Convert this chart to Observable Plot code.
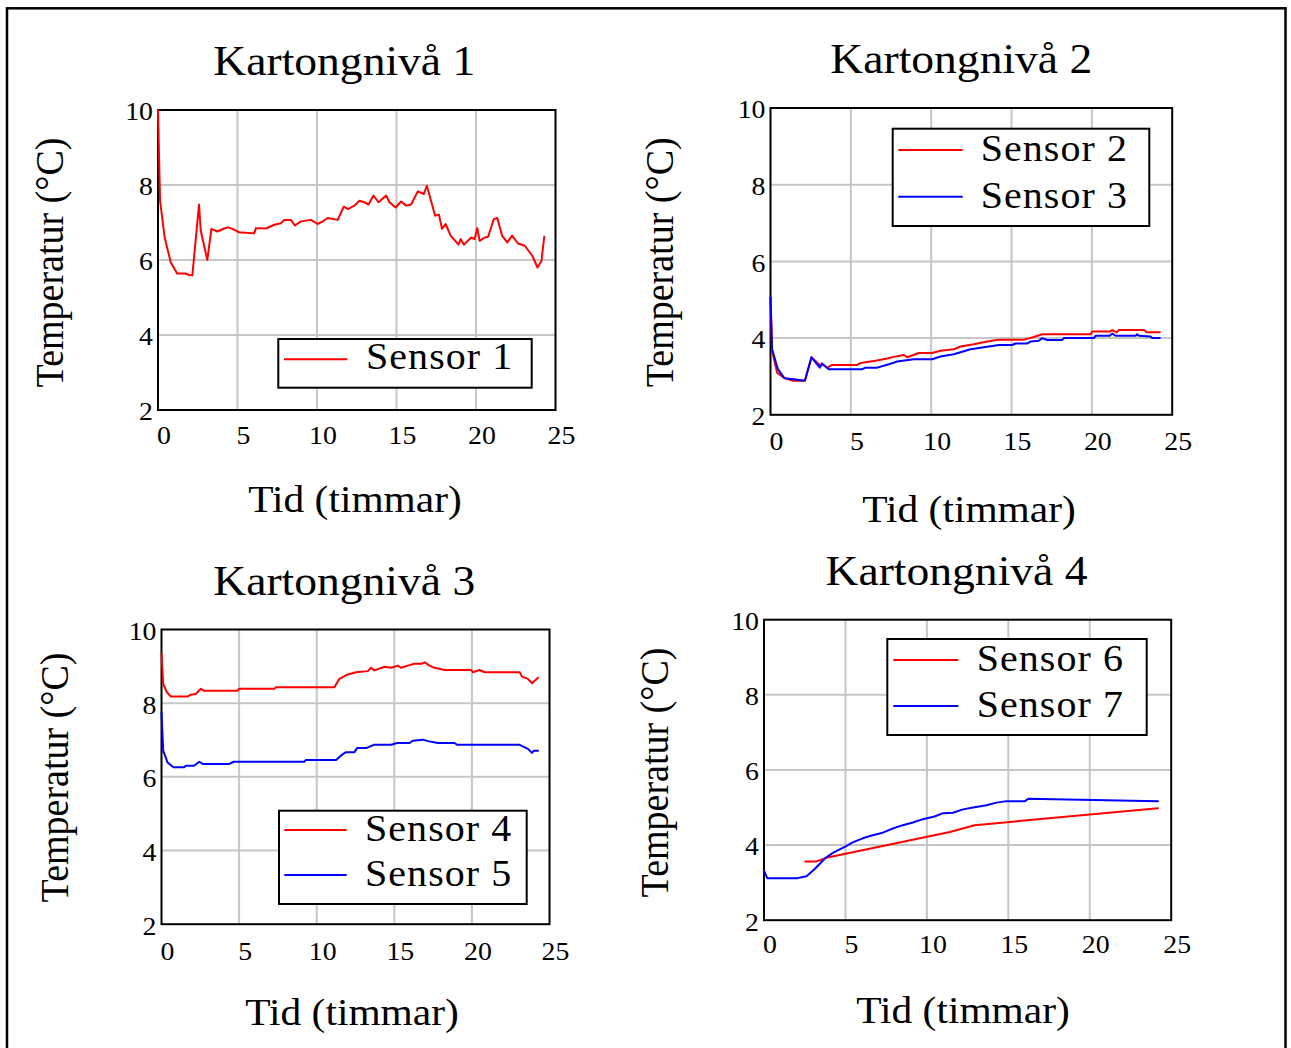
<!DOCTYPE html>
<html><head><meta charset="utf-8">
<script src="https://cdn.jsdelivr.net/npm/d3@7"></script>
<script src="https://cdn.jsdelivr.net/npm/@observablehq/plot@0.6"></script>
<style>
html,body{margin:0;padding:0;background:#fff;}
#root{position:relative;width:1291px;height:1048px;overflow:hidden;background:#fff;font-family:"Liberation Serif","Times New Roman",serif;}
#root svg{position:absolute;}
</style></head><body><div id="root"></div>
<script>
// ---------- data ----------
const xTicks = [0, 5, 10, 15, 20, 25];
const yTicks = [2, 4, 6, 8, 10];
const xGrid = [5, 10, 15, 20];
const yGrid = [4, 6, 8];
const titles = ["Kartongnivå 1", "Kartongnivå 2", "Kartongnivå 3", "Kartongnivå 4"];
const xLabel = "Tid (timmar)";
const yLabel = "Temperatur (°C)";
const sensorNames = ["Sensor 1", "Sensor 2", "Sensor 3", "Sensor 4", "Sensor 5", "Sensor 6", "Sensor 7"];

// [hours, °C]
const sensor1 = [[0,10],[0.13,7.58],[0.42,6.6],[0.8,5.94],[1.2,5.64],[1.74,5.64],[1.95,5.6],[2.16,5.59],[2.58,7.48],[2.69,6.78],[3.1,6.0],[3.36,6.83],[3.74,6.76],[4.16,6.84],[4.41,6.87],[4.68,6.83],[5.1,6.74],[6.05,6.71],[6.16,6.85],[6.79,6.84],[7.31,6.94],[7.73,6.98],[7.94,7.07],[8.36,7.07],[8.61,6.92],[8.99,7.03],[9.62,7.07],[10.04,6.96],[10.36,7.03],[10.67,7.12],[11.3,7.07],[11.68,7.42],[11.97,7.36],[12.35,7.45],[12.67,7.58],[12.98,7.54],[13.24,7.48],[13.55,7.72],[13.87,7.54],[14.35,7.72],[14.56,7.54],[14.94,7.40],[15.29,7.56],[15.61,7.45],[15.92,7.48],[16.34,7.83],[16.72,7.76],[16.91,7.98],[17.43,7.18],[17.67,7.21],[17.86,6.83],[18.09,6.96],[18.4,6.65],[18.9,6.41],[19.03,6.56],[19.24,6.41],[19.7,6.6],[19.91,6.56],[20.08,6.85],[20.23,6.51],[20.55,6.6],[20.76,6.62],[21.12,7.09],[21.34,7.12],[21.64,6.65],[21.97,6.47],[22.27,6.65],[22.64,6.44],[23.07,6.38],[23.53,6.12],[23.87,5.80],[24.12,5.98],[24.29,6.62]];
const sensor2 = [[0,5.06],[0.1,3.67],[0.41,3.10],[0.83,2.97],[1.35,2.89],[2.14,2.89],[2.55,3.50],[3.11,3.28],[3.2,3.32],[3.53,3.23],[3.84,3.30],[5.39,3.30],[5.6,3.35],[6.54,3.41],[7.26,3.47],[7.68,3.51],[8.3,3.56],[8.51,3.50],[9.23,3.61],[10.06,3.61],[10.58,3.67],[11.41,3.71],[11.83,3.78],[12.66,3.84],[13.49,3.91],[14.21,3.96],[15.77,3.96],[16.39,4.03],[16.91,4.10],[19.92,4.10],[20.02,4.17],[21.12,4.17],[21.27,4.21],[21.54,4.15],[21.68,4.21],[23.24,4.21],[23.44,4.15],[24.23,4.15]];
const sensor3 = [[0,5.06],[0.1,3.71],[0.46,3.19],[0.87,2.95],[1.45,2.93],[2.14,2.89],[2.55,3.50],[3.07,3.23],[3.2,3.34],[3.63,3.19],[5.71,3.19],[5.91,3.23],[6.64,3.23],[7.37,3.32],[7.88,3.39],[8.92,3.45],[10.06,3.45],[10.58,3.52],[11.41,3.58],[12.45,3.71],[13.28,3.76],[14.21,3.82],[15.04,3.82],[15.25,3.86],[15.98,3.86],[16.18,3.91],[16.7,3.93],[16.91,4.0],[17.22,3.95],[18.15,3.95],[18.26,4.0],[20.13,4.0],[20.23,4.06],[21.12,4.06],[21.27,4.12],[21.47,4.06],[22.72,4.06],[22.82,4.1],[22.93,4.06],[23.65,4.04],[23.76,4.0],[24.23,4.0]];
const sensor4 = [[0,9.34],[0.11,8.52],[0.34,8.30],[0.6,8.18],[1.68,8.18],[1.89,8.23],[2.2,8.25],[2.54,8.39],[2.71,8.34],[4.9,8.34],[5.0,8.39],[7.27,8.39],[7.38,8.43],[11.14,8.43],[11.46,8.66],[12.0,8.78],[12.54,8.84],[13.29,8.87],[13.5,8.96],[13.72,8.89],[14.37,8.99],[14.8,8.96],[15.23,9.02],[15.44,8.96],[15.87,9.02],[16.3,9.07],[16.77,9.07],[16.95,9.11],[17.27,9.02],[17.59,8.96],[18.24,8.90],[19.96,8.90],[20.06,8.84],[20.49,8.90],[20.82,8.84],[23.08,8.84],[23.23,8.72],[23.61,8.66],[23.87,8.54],[24.26,8.69]];
const sensor5 = [[0,7.75],[0.11,6.71],[0.39,6.39],[0.77,6.26],[1.46,6.26],[1.57,6.30],[2.1,6.30],[2.43,6.41],[2.65,6.35],[4.37,6.35],[4.65,6.41],[9.2,6.41],[9.31,6.46],[11.25,6.46],[11.68,6.62],[11.89,6.67],[12.43,6.67],[12.6,6.78],[13.18,6.78],[13.68,6.87],[14.8,6.87],[15.18,6.92],[15.98,6.92],[16.19,6.98],[16.84,7.01],[17.16,6.97],[17.81,6.92],[18.88,6.92],[19.05,6.87],[23.08,6.87],[23.61,6.76],[23.87,6.65],[24.0,6.71],[24.26,6.71]];
const sensor6 = [[2.53,3.56],[3.18,3.56],[3.9,3.67],[11.19,4.33],[11.4,4.35],[12.94,4.53],[24.19,4.98]];
const sensor7 = [[0,3.32],[0.2,3.12],[2.05,3.12],[2.61,3.17],[3.08,3.35],[3.8,3.67],[4.31,3.81],[4.99,3.96],[5.44,4.07],[6.06,4.18],[6.67,4.26],[7.29,4.33],[7.91,4.44],[8.52,4.53],[9.14,4.60],[9.75,4.69],[10.47,4.76],[10.99,4.85],[11.6,4.86],[12.22,4.95],[12.84,5.0],[13.66,5.06],[14.27,5.13],[14.89,5.17],[16.02,5.17],[16.22,5.23],[24.19,5.17]];

// ---------- layout / style ----------
const RED = "#ff0000", BLUE = "#0000ff";
const FONT = "Liberation Serif";
const panels = [
  {title: titles[0], series: [{name: sensorNames[0], data: sensor1, color: RED}],
   frame: {l: 157.5, r: 555, t: 109.5, b: 409.5}, box: {x: 0, y: 80, w: 640, h: 400}, xPad: 16,
   titlePos: [344.3, 75], xLabPos: [355, 511.7], yLabPos: [63, 262.5],
   legend: {l: 278.3, r: 531.7, t: 339, b: 387.7, lx1: 284, lx2: 347.3, tx: 366, rows: [[359.3, 369.3]]}},
  {title: titles[1], series: [{name: sensorNames[1], data: sensor2, color: RED}, {name: sensorNames[2], data: sensor3, color: BLUE}],
   frame: {l: 770, r: 1171.7, t: 107.5, b: 414.3}, box: {x: 645, y: 80, w: 640, h: 410}, xPad: 16.5,
   titlePos: [961.3, 72.7], xLabPos: [969, 521.7], yLabPos: [673.3, 262.3],
   legend: {l: 892.7, r: 1149.3, t: 128.7, b: 226, lx1: 898.3, lx2: 962.7, tx: 980.7, rows: [[150, 161], [196.7, 207.7]]}},
  {title: titles[2], series: [{name: sensorNames[3], data: sensor4, color: RED}, {name: sensorNames[4], data: sensor5, color: BLUE}],
   frame: {l: 161, r: 549, t: 629, b: 923.7}, box: {x: 0, y: 600, w: 640, h: 380}, xPad: 17,
   titlePos: [344.2, 595], xLabPos: [352, 1025], yLabPos: [67.7, 777.5],
   legend: {l: 279, r: 526.7, t: 810.7, b: 904, lx1: 284.3, lx2: 346.7, tx: 365, rows: [[830, 841], [875, 886]]}},
  {title: titles[3], series: [{name: sensorNames[5], data: sensor6, color: RED}, {name: sensorNames[6], data: sensor7, color: BLUE}],
   frame: {l: 763.5, r: 1170.7, t: 619.2, b: 919.7}, box: {x: 645, y: 590, w: 640, h: 380}, xPad: 14.5,
   titlePos: [956.5, 585], xLabPos: [963, 1023.3], yLabPos: [668, 772.5],
   legend: {l: 887.3, r: 1146.7, t: 639, b: 735, lx1: 893.3, lx2: 958.3, tx: 976.7, rows: [[660, 671], [706, 716.7]]}}
];

const root = document.getElementById("root");

// widen tick labels horizontally (keeps Plot's own translate and em offsets)
function stretchText(svgNode, selector, s) {
  d3.select(svgNode).selectAll(selector).each(function () {
    const t = this.getAttribute("transform") || "";
    this.setAttribute("transform", `${t} scale(${s},1)`);
  });
}

for (const p of panels) {
  const f = p.frame, b = p.box;
  const svg = Plot.plot({
    width: b.w, height: b.h,
    marginLeft: f.l - b.x, marginRight: b.x + b.w - f.r,
    marginTop: f.t - b.y, marginBottom: b.y + b.h - f.b,
    x: {domain: [0, 25]},
    y: {domain: [2, 10]},
    style: {background: "transparent", fontFamily: FONT, fontSize: "26px", color: "black", overflow: "visible"},
    marks: [
      Plot.gridX({ticks: xGrid, stroke: "#c6c6c6", strokeOpacity: 1, strokeWidth: 2}),
      Plot.gridY({ticks: yGrid, stroke: "#c6c6c6", strokeOpacity: 1, strokeWidth: 2}),
      Plot.frame({stroke: "black", strokeWidth: 2}),
      ...p.series.map(s => Plot.line(s.data, {x: d => d[0], y: d => d[1], stroke: s.color, strokeWidth: 2})),
      Plot.axisX({ticks: xTicks, tickSize: 0, tickPadding: p.xPad, dx: 6, label: null, fill: "black", tickFormat: d => String(d)}),
      Plot.axisY({ticks: yTicks, tickSize: 0, tickPadding: 5, dy: 2, label: null, fill: "black", tickFormat: d => String(d)})
    ]
  });
  svg.style.left = b.x + "px";
  svg.style.top = b.y + "px";
  root.appendChild(svg);
  stretchText(svg, 'g[aria-label$="tick label"] text', 1.07);
}

// ---------- overlay: border, titles, axis labels, legends ----------
const ov = d3.select(root).append("svg")
  .attr("width", 1291).attr("height", 1048)
  .style("left", "0px").style("top", "0px")
  .attr("font-family", FONT);

ov.append("rect").attr("x", 7).attr("y", 8.3).attr("width", 1278.5).attr("height", 1100)
  .attr("fill", "none").attr("stroke", "black").attr("stroke-width", 2.5);

for (const p of panels) {
  ov.append("text").text(p.title)
    .attr("text-anchor", "middle").attr("font-size", 42).attr("fill", "black")
    .attr("transform", `translate(${p.titlePos[0]},${p.titlePos[1]}) scale(1.085,1)`);
  ov.append("text").text(xLabel)
    .attr("text-anchor", "middle").attr("font-size", 37).attr("fill", "black")
    .attr("transform", `translate(${p.xLabPos[0]},${p.xLabPos[1]}) scale(1.12,1)`);
  ov.append("text").text(yLabel)
    .attr("text-anchor", "middle").attr("font-size", 38).attr("fill", "black")
    .attr("transform", `translate(${p.yLabPos[0]},${p.yLabPos[1]}) scale(1.08,1) rotate(-90)`);
  const L = p.legend;
  ov.append("rect").attr("x", L.l).attr("y", L.t).attr("width", L.r - L.l).attr("height", L.b - L.t)
    .attr("fill", "white").attr("stroke", "black").attr("stroke-width", 2);
  p.series.forEach((s, i) => {
    const [ly, by] = L.rows[i];
    ov.append("line").attr("x1", L.lx1).attr("x2", L.lx2).attr("y1", ly).attr("y2", ly)
      .attr("stroke", s.color).attr("stroke-width", 2);
    ov.append("text").text(s.name)
      .attr("font-size", 37).attr("letter-spacing", 1).attr("fill", "black")
      .attr("transform", `translate(${L.tx},${by}) scale(1.08,1)`);
  });
}
</script></body></html>
